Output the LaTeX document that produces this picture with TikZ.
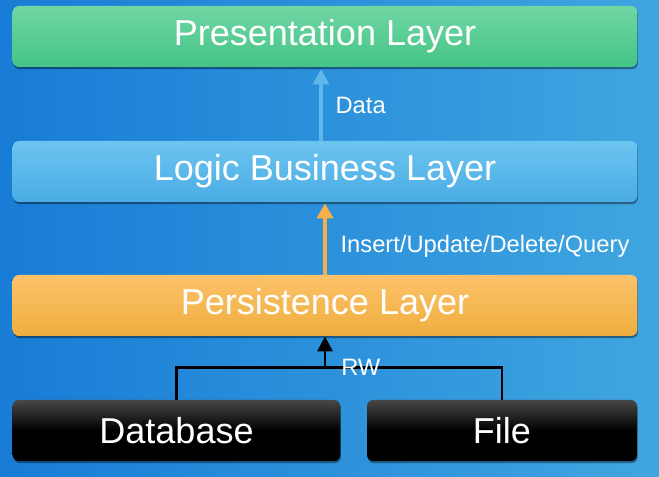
\documentclass[tikz,border=0pt]{standalone}
\usepackage{fontspec}
\setmainfont{Liberation Sans}
\usepackage{tikz}
\usetikzlibrary{calc,arrows.meta,positioning,shadows}
\definecolor{bgdark}{RGB}{24,124,214}
\definecolor{bglight}{RGB}{64,166,224}
\definecolor{presgreenA}{RGB}{112,214,164}
\definecolor{presgreenB}{RGB}{68,196,134}
\definecolor{logicblueA}{RGB}{108,196,240}
\definecolor{logicblueB}{RGB}{74,172,228}
\definecolor{persorangeA}{RGB}{253,194,106}
\definecolor{persorangeB}{RGB}{238,174,62}
\definecolor{dataarrow}{RGB}{96,182,232}
\definecolor{insarrow}{RGB}{246,176,74}
\tikzset{
  lyrbox/.style={rectangle, rounded corners=3.5pt, minimum width=12.49cm,
                 minimum height=1.22cm, inner sep=0pt, text=white,
                 font=\fontsize{20.5}{23}\selectfont,
                 drop shadow={shadow xshift=0.4pt, shadow yshift=-1.2pt,
                              fill=black, opacity=0.4}},
  lyrpres/.style   ={lyrbox, top color=presgreenA,  bottom color=presgreenB},
  lyrlogic/.style  ={lyrbox, top color=logicblueA,  bottom color=logicblueB},
  lyrpersist/.style={lyrbox, top color=persorangeA, bottom color=persorangeB},
  lyrstore/.style  ={lyrbox, top color=black!72, bottom color=black, middle color=black},
  lyrlabel/.style  ={font=\fontsize{13.5}{15}\selectfont, text=white, inner sep=1pt},
  adata/.style={-{Triangle[length=3mm,width=3.2mm]}, line width=2.1pt, dataarrow},
  ains/.style ={-{Triangle[length=3mm,width=3.2mm]}, line width=2.1pt, insarrow},
  arw/.style  ={-{Triangle[length=3mm,width=3mm]}, line width=1.7pt, black},
  rwline/.style={line width=1.7pt, black},
}
\begin{document}
\begin{tikzpicture}
  % --- background ---------------------------------------------------------
  \shade[left color=bgdark, right color=bglight] (0,0) rectangle (13.18,9.54);
  \useasboundingbox (0,0) rectangle (13.18,9.54);

  % --- the layers ----------------------------------------------------------
  \node[lyrpres]    (pres)    at (6.50,8.81) {Presentation Layer};
  \node[lyrlogic]   (logic)   at (6.50,6.11) {Logic Business Layer};
  \node[lyrpersist] (persist) at (6.50,3.43) {Persistence Layer};
  \node[lyrstore, minimum width=6.55cm] (db)   at (3.53,0.93) {Database};
  \node[lyrstore, minimum width=5.40cm] (file) at (10.04,0.93) {File};

  % --- the connectors ------------------------------------------------------
  \draw[adata] ([xshift=-0.08cm]logic.north) -- ([xshift=-0.08cm,yshift=-0.04cm]pres.south)
    node[midway, right=0.22cm, lyrlabel] {Data};
  \draw[ains] (persist.north) -- ([yshift=-0.02cm]logic.south)
    node[pos=0.4, right=0.24cm, lyrlabel] {Insert/Update/Delete/Query};

  \coordinate (rwbar) at ($(db.north)+(0,0.64)$);
  \draw[rwline] (db.north) -- (rwbar) -| (file.north);
  \draw[arw] (persist.south |- rwbar) -- (persist.south)
    node[pos=0, right=0.26cm, lyrlabel] {RW};
\end{tikzpicture}
\end{document}
